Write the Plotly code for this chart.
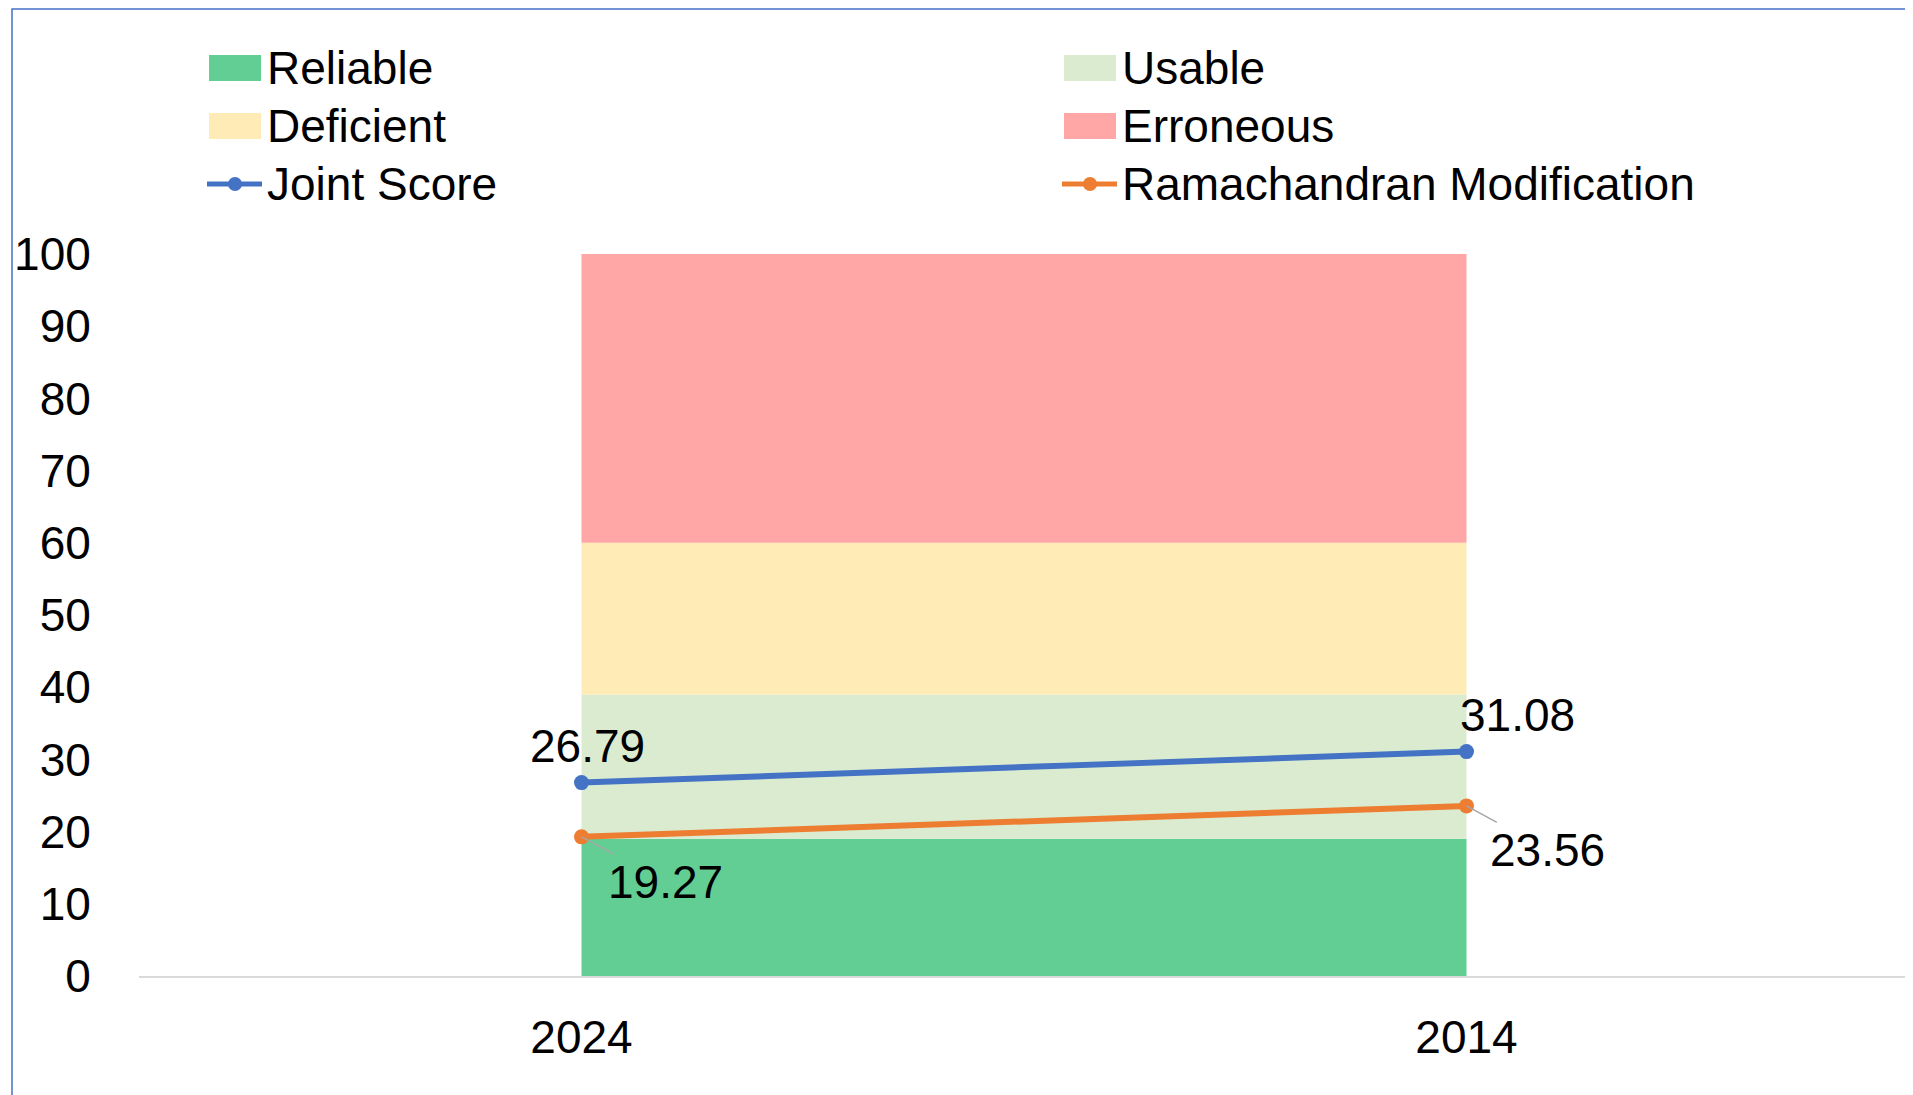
import plotly.graph_objects as go

# Values
years = ["2024", "2014"]
reliable = [19, 19]
usable = [20, 20]
deficient = [21, 21]
erroneous = [40, 40]
joint_score = [26.79, 31.08]
ramachandran = [19.27, 23.56]

BAND_COLORS = {
    "Reliable": "#62CE94",
    "Usable": "#DAEBD0",
    "Deficient": "#FFEBB6",
    "Erroneous": "#FFA6A6",
}
LINE_COLORS = {"Joint Score": "#4472C4", "Ramachandran Modification": "#ED7D31"}
FONT = "Liberation Sans, Arial, sans-serif"

# Figure geometry (the page body adds an 8px margin)
PAGE_OFFSET = 8
FIG_W, FIG_H = 1905, 1087
M_L, M_R, M_T, M_B = 131, 4, 246, 119
PLOT_W = FIG_W - M_L - M_R
PLOT_H = FIG_H - M_T - M_B


def paper_x(px: float) -> float:
    # screen pixel -> paper fraction
    return (px - PAGE_OFFSET - M_L) / PLOT_W


def paper_y(py: float) -> float:
    return (PAGE_OFFSET + M_T + PLOT_H - py) / PLOT_H


def add_legend(fig: go.Figure) -> None:
    # Excel-style legend: two columns, big swatches
    entries = list(BAND_COLORS.items()) + list(LINE_COLORS.items())
    col_x = [209, 1064]
    row_y = [68, 126, 184]
    for i, (name, color) in enumerate(entries):
        x0 = col_x[i % 2]
        y = row_y[i // 2]
        if name in BAND_COLORS:
            fig.add_shape(type="rect", xref="paper", yref="paper",
                          x0=paper_x(x0), x1=paper_x(x0 + 52),
                          y0=paper_y(y + 13), y1=paper_y(y - 13),
                          line=dict(width=0), fillcolor=color)
        else:
            fig.add_shape(type="line", xref="paper", yref="paper",
                          x0=paper_x(x0 - 2), x1=paper_x(x0 + 53),
                          y0=paper_y(y), y1=paper_y(y),
                          line=dict(color=color, width=5))
            fig.add_shape(type="circle", xref="paper", yref="paper",
                          x0=paper_x(x0 + 19), x1=paper_x(x0 + 33),
                          y0=paper_y(y + 7), y1=paper_y(y - 7),
                          line=dict(width=0), fillcolor=color)
        fig.add_annotation(xref="paper", yref="paper", x=paper_x(x0 + 56), y=paper_y(y),
                           xanchor="left", yanchor="middle", text=name, showarrow=False)


def build_chart() -> go.Figure:
    fig = go.Figure()

    # Quality bands as stacked areas
    for name, values in [("Reliable", reliable), ("Usable", usable),
                         ("Deficient", deficient), ("Erroneous", erroneous)]:
        fig.add_trace(go.Scatter(
            x=years, y=values, name=name, mode="none",
            stackgroup="bands", fillcolor=BAND_COLORS[name],
            hoverinfo="skip"
        ))

    # Score lines
    for name, values in [("Joint Score", joint_score),
                         ("Ramachandran Modification", ramachandran)]:
        fig.add_trace(go.Scatter(
            x=years, y=values, name=name, mode="lines+markers",
            line=dict(color=LINE_COLORS[name], width=6), marker=dict(size=15)
        ))

    # Data labels (category axis -> use the category index)
    for i, v in enumerate(joint_score):
        fig.add_annotation(x=i, y=v, text=f"{v:.2f}", showarrow=False,
                           yshift=37, xshift=[6, 51][i])
    for i, v in enumerate(ramachandran):
        fig.add_annotation(x=i, y=v, text=f"{v:.2f}", showarrow=True,
                           arrowhead=0, arrowwidth=1.5, arrowcolor="#A6A6A6",
                           ax=[84, 81][i], ay=[45, 44][i], standoff=0)

    add_legend(fig)

    # Chart border
    fig.add_shape(type="rect", xref="paper", yref="paper",
                  x0=paper_x(12), x1=paper_x(1910), y0=paper_y(1110), y1=paper_y(9),
                  line=dict(color="#4472C4", width=1.5), fillcolor="rgba(0,0,0,0)")

    fig.update_layout(
        template="plotly_white",
        width=FIG_W,
        height=FIG_H,
        font=dict(family=FONT, size=46, color="#000000"),
        plot_bgcolor="white",
        paper_bgcolor="white",
        margin={"t": M_T, "b": M_B, "l": M_L, "r": M_R},
        showlegend=False,
        hovermode=False,
    )
    fig.update_xaxes(
        type="category", range=[-0.5, 1.5], showgrid=False, zeroline=False,
        showline=True, linecolor="#D9D9D9", linewidth=2,
        ticks="outside", ticklen=20, tickcolor="rgba(0,0,0,0)"
    )
    fig.update_yaxes(
        range=[0, 100], dtick=10, showgrid=False, zeroline=False, showline=False,
        ticks="outside", ticklen=38, tickcolor="rgba(0,0,0,0)"
    )
    return fig


fig = build_chart()
fig.write_html("out.html")
